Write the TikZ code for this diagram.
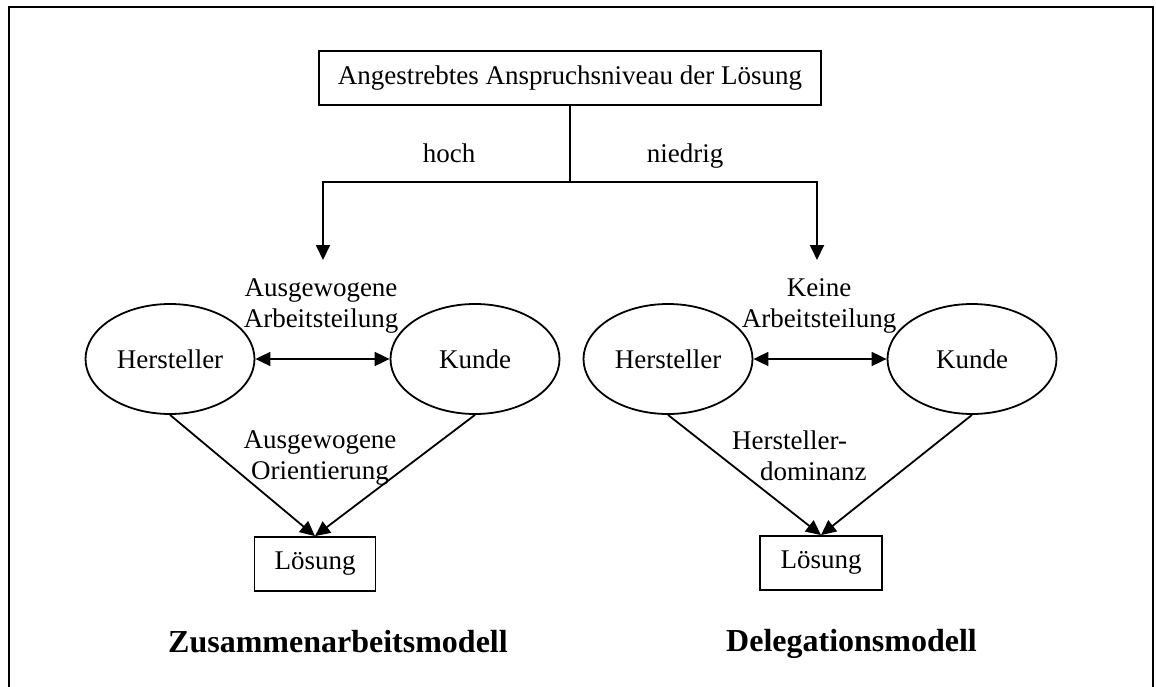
\documentclass[tikz,border=0pt]{standalone}
\usepackage{fontspec}
\setmainfont{Liberation Serif}
\usetikzlibrary{arrows.meta,shapes.geometric}

\tikzset{
  every picture/.style={x=1pt,y=-1pt},
  txt/.style={font=\fontsize{27pt}{31pt}\selectfont},
  line/.style={line width=1.8pt},
  arr/.style={line, -{Triangle[length=15pt,width=14pt]}},
  darr/.style={line, {Triangle[length=15pt,width=14pt]}-{Triangle[length=15pt,width=14pt]}},
  box/.style={txt, draw, line width=1.8pt, rectangle, inner sep=0pt},
  oval/.style={txt, draw, line width=1.8pt, ellipse, inner sep=0pt,
               minimum width=169pt, minimum height=110pt},
  lbl/.style={txt, inner sep=0pt, anchor=base},
  title/.style={font=\fontsize{32pt}{36pt}\selectfont\bfseries, inner sep=0pt, anchor=base west}
}

\begin{document}
\begin{tikzpicture}
\useasboundingbox (0,0) rectangle (1156,687);

% outer frame (open at the bottom edge)
\draw[line width=2.2pt] (9,700) -- (9,7) -- (1153,7) -- (1153,700);

% decision box and its two branches
\node[box, minimum width=502pt, minimum height=54pt] (goal) at (570,78)
  {Angestrebtes Anspruchsniveau der L\"osung};
\coordinate (fork) at (570,182);
\coordinate (hiEnd) at (323,260);
\coordinate (loEnd) at (817,260);
\draw[line] (goal.south) -- (fork);
\draw[arr] (fork) -| (hiEnd);
\draw[arr] (fork) -| (loEnd);
\node[lbl] (hoch) at (449,163) {hoch};
\node[lbl] (niedrig) at (685,163) {niedrig};

% collaboration model
\node[oval] (hersA) at (170,359) {Hersteller};
\node[oval] (kundeA) at (475,359) {Kunde};
\node[box, minimum width=121pt, minimum height=54pt] (solA) at (315,564) {L\"osung};
\draw[darr] (hersA) -- (kundeA);
\draw[arr] (hersA.south) -- (solA.north);
\draw[arr] (kundeA.south) -- (solA.north);
\node[lbl] (splitA) at (321,296)
  {\begin{tabular}[t]{@{}c@{}}Ausgewogene\\Arbeitsteilung\end{tabular}};
\node[lbl] (orientA) at (320,448)
  {\begin{tabular}[t]{@{}c@{}}Ausgewogene\\Orientierung\end{tabular}};
\node[title] (modelA) at (168,652) {Zusammenarbeitsmodell};

% delegation model
\node[oval] (hersB) at (668,359) {Hersteller};
\node[oval] (kundeB) at (972,359) {Kunde};
\node[box, minimum width=122pt, minimum height=54pt] (solB) at (821,563) {L\"osung};
\draw[darr] (hersB) -- (kundeB);
\draw[arr] (hersB.south) -- (solB.north);
\draw[arr] (kundeB.south) -- (solB.north);
\node[lbl] (splitB) at (819,296)
  {\begin{tabular}[t]{@{}c@{}}Keine\\Arbeitsteilung\end{tabular}};
\node[txt, inner sep=0pt, anchor=base west] (orientB) at (732,449)
  {\begin{tabular}[t]{@{}l@{}}Hersteller-\\\hspace*{28pt}dominanz\end{tabular}};
\node[title] (modelB) at (726,651) {Delegationsmodell};
\end{tikzpicture}
\end{document}
